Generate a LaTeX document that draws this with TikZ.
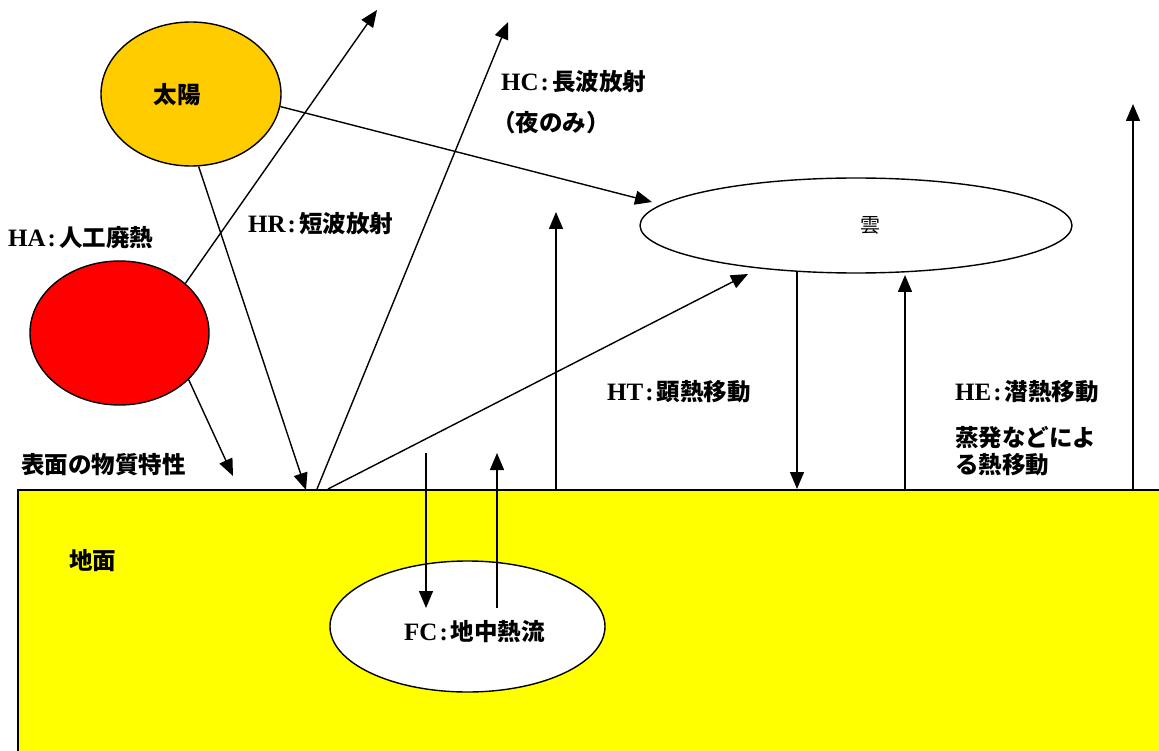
\documentclass[tikz,border=0pt]{standalone}
\usepackage{fontspec}
\setmainfont{Liberation Serif}
\newfontfamily\jpfont{Noto Sans CJK JP}
\usetikzlibrary{arrows.meta,shapes.geometric}
\definecolor{sunc}{RGB}{255,204,0}
\definecolor{heatc}{RGB}{255,0,0}
\definecolor{groundc}{RGB}{255,255,0}
\newcommand\lat[1]{{\fontsize{25}{28}\selectfont\bfseries #1\kern2pt:\kern3pt}}
\newcommand\jp[1]{{\jpfont\bfseries #1}}
\begin{document}
\begin{tikzpicture}[x=1pt,y=-1pt,
  ell/.style={draw=black, line width=1.4pt, ellipse, inner sep=0pt},
  lbl/.style={anchor=west, inner sep=0pt, font=\fontsize{23.5}{28}\selectfont},
  ctr/.style={inner sep=0pt, font=\fontsize{23.5}{28}\selectfont},
  arr/.style={line width=1.4pt, -{Triangle[length=17pt,width=14pt]}},
  ln/.style={line width=1.4pt}]
\useasboundingbox[fill=white] (0,0) rectangle (1159,751);
% ground
\node[draw=black, line width=1.6pt, fill=groundc, anchor=north west, minimum width=1170pt, minimum height=290pt, inner sep=0pt] (ground) at (17,489) {};
% ellipses
\node[ell, fill=sunc, minimum width=180pt, minimum height=144pt] (sun) at (191,94) {};
\node[ell, fill=heatc, minimum width=179pt, minimum height=144pt] (heat) at (119.5,333) {};
\node[ell, fill=white, minimum width=432pt, minimum height=95pt] (cloud) at (856,225.5) {};
\node[ell, fill=white, minimum width=275pt, minimum height=131pt] (fc) at (467.5,626.5) {};
% texts
\node[ctr] (tsun) at (177,95) {\jp{太陽}};
\node[inner sep=0pt, font=\fontsize{20}{24}\selectfont] (tcloud) at (870,225) {\jpfont 雲};
\node[lbl] (tha) at (8,238) {\lat{HA}\jp{人工廃熱}};
\node[lbl] (thr) at (248,224) {\lat{HR}\jp{短波放射}};
\node[lbl] (thc) at (501,82) {\lat{HC}\jp{長波放射}};
\node[lbl] (thc2) at (492,123) {\jp{（夜のみ）}};
\node[lbl] (tht) at (607,392) {\lat{HT}\jp{顕熱移動}};
\node[lbl] (the) at (955,392) {\lat{HE}\jp{潜熱移動}};
\node[lbl] (the2) at (955,438) {\jp{蒸発などによ}};
\node[lbl] (the3) at (955,465) {\jp{る熱移動}};
\node[lbl] (tsurf) at (21,465) {\jp{表面の物質特性}};
\node[lbl] (tground) at (69,561) {\jp{地面}};
\node[lbl] (tfc) at (404,632) {\lat{FC}\jp{地中熱流}};
% coordinates
\coordinate (pHAup) at (377,10);
\coordinate (pHAdn) at (233,476);
\coordinate (pHR) at (306,490);
\coordinate (pHCs) at (317,489);
\coordinate (pHCe) at (508,22);
\coordinate (pSunCl) at (652,202);
\coordinate (pHTs) at (328,489);
\coordinate (pHTe) at (748,274);
\coordinate (pUp1s) at (556,489);
\coordinate (pUp1e) at (556,212);
\coordinate (pCdS) at (797,272);
\coordinate (pCdE) at (797,489);
\coordinate (pCuS) at (905,489);
\coordinate (pCuE) at (905,275);
\coordinate (pRs) at (1133,489);
\coordinate (pRe) at (1133,104);
\coordinate (pFdS) at (426,453);
\coordinate (pFdE) at (426,608);
\coordinate (pFuS) at (497,608);
\coordinate (pFuE) at (497,453);
% connectors
\draw[arr] (heat.37) -- (pHAup);
\draw[arr] (heat.-34) -- (pHAdn);
\draw[arr] (sun.-84) -- (pHR);
\draw[arr] (sun.-8) -- (pSunCl);
\draw[arr] (pHCs) -- (pHCe);
\draw[arr] (pHTs) -- (pHTe);
\draw[arr] (pUp1s) -- (pUp1e);
\draw[arr] (pCdS) -- (pCdE);
\draw[arr] (pCuS) -- (pCuE);
\draw[arr] (pRs) -- (pRe);
\draw[arr] (pFdS) -- (pFdE);
\draw[arr] (pFuS) -- (pFuE);
\end{tikzpicture}
\end{document}
